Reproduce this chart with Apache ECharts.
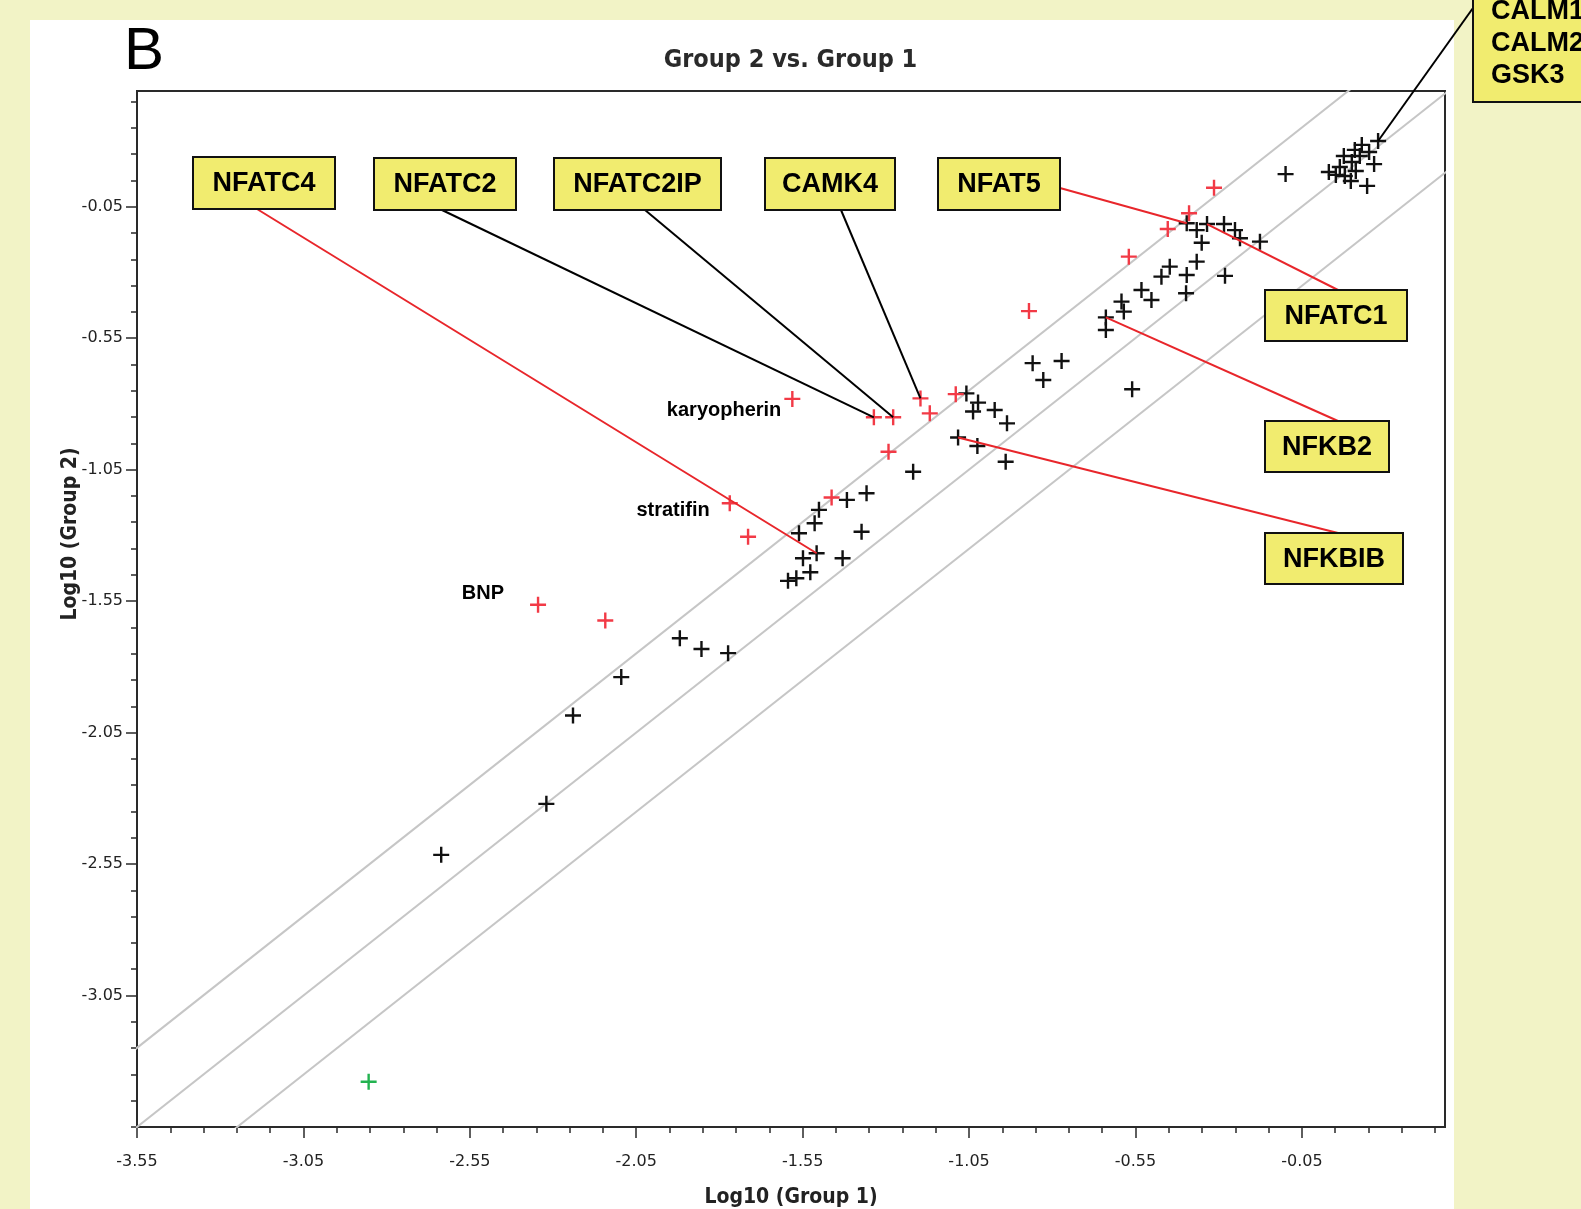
<!DOCTYPE html>
<html>
<head>
<meta charset="utf-8">
<script src="https://cdn.jsdelivr.net/npm/echarts@6/dist/echarts.min.js"></script>
<style>
  html, body { margin: 0; padding: 0; background: #f2f3c6; }
  #panel { position: absolute; left: 30px; top: 20px; width: 1424px; height: 1189px; background: #fff; }
  #main { position: absolute; left: 0; top: 0; width: 1581px; height: 1209px; }
</style>
</head>
<body>
<div id="panel"></div>
<div id="main"></div>
<script>
// axis ticks
const xTicks = [-3.55, -3.05, -2.55, -2.05, -1.55, -1.05, -0.55, -0.05];
const yTicks = [-3.05, -2.55, -2.05, -1.55, -1.05, -0.55, -0.05];
const xMin = -3.55, xMax = 0.38;
const yMin = -3.55, yMax = 0.39;

// 2-fold lines: y = x + offset
const diagOffsets = [0.301, 0, -0.301];

// log10(group1), log10(group2)
const blackPts = [
  [-2.636, -2.515], [-2.320, -2.321], [-2.240, -1.985], [-2.095, -1.839],
  [-1.919, -1.691], [-1.854, -1.732], [-1.774, -1.748],
  [-1.594, -1.473], [-1.569, -1.463], [-1.527, -1.440], [-1.549, -1.387],
  [-1.508, -1.368], [-1.430, -1.387], [-1.561, -1.292], [-1.514, -1.254],
  [-1.501, -1.203], [-1.417, -1.165], [-1.358, -1.140], [-1.373, -1.286],
  [-1.218, -1.058], [-1.083, -0.928], [-1.025, -0.960], [-0.940, -1.020],
  [-1.058, -0.760], [-1.023, -0.795], [-1.038, -0.829], [-0.973, -0.823],
  [-0.936, -0.874],
  [-0.859, -0.645], [-0.827, -0.709], [-0.772, -0.637], [-0.560, -0.744],
  [-0.639, -0.471], [-0.639, -0.519], [-0.592, -0.411], [-0.585, -0.449],
  [-0.532, -0.367], [-0.502, -0.405], [-0.447, -0.278], [-0.472, -0.316],
  [-0.398, -0.379], [-0.396, -0.310], [-0.366, -0.259], [-0.281, -0.313],
  [-0.396, -0.113], [-0.366, -0.139], [-0.335, -0.116], [-0.351, -0.187],
  [-0.284, -0.116], [-0.251, -0.139], [-0.236, -0.170], [-0.176, -0.183],
  [-0.099, 0.074],
  [0.179, 0.200], [0.130, 0.185], [0.109, 0.166], [0.152, 0.158],
  [0.076, 0.143], [0.124, 0.143], [0.100, 0.120], [0.167, 0.112],
  [0.064, 0.101], [0.112, 0.086], [0.052, 0.071], [0.079, 0.067],
  [0.097, 0.048], [0.146, 0.029], [0.031, 0.082]
];

const redPts = [
  [-2.345, -1.564], [-2.143, -1.624], [-1.769, -1.178], [-1.714, -1.305],
  [-1.581, -0.781], [-1.463, -1.156], [-1.336, -0.851], [-1.278, -0.851],
  [-1.292, -0.982], [-1.196, -0.779], [-1.168, -0.836], [-1.090, -0.763],
  [-0.870, -0.447], [-0.570, -0.240], [-0.453, -0.135], [-0.389, -0.075],
  [-0.314, 0.022]
];

const greenPts = [[-2.854, -3.378]];

// point names written next to red points
const pointNames = ['karyopherin', 'stratifin', 'BNP'];
const pointNameIdx = [4, 2, 0];
const pointNameShift = [[-11, 12], [-20, 7], [-34, -11]];

// yellow callout boxes (pixel layout) and which point they point at
const callouts = [
  { text: 'NFATC4',   box: [193, 157, 142, 52], from: [257, 209],  blackIdx: 11, stroke: '#e8262b' },
  { text: 'NFATC2',   box: [374, 158, 142, 52], from: [442, 210],  redIdx: 6, stroke: '#000' },
  { text: 'NFATC2IP', box: [554, 158, 167, 52], from: [645, 210],  redIdx: 7, stroke: '#000' },
  { text: 'CAMK4',    box: [765, 158, 130, 52], from: [841, 210],  redIdx: 9, stroke: '#000' },
  { text: 'NFAT5',    box: [938, 158, 122, 52], from: [1060, 188], blackIdx: 44, stroke: '#e8262b' },
  { text: 'NFATC1',   box: [1265, 290, 142, 51], from: [1338, 290], blackIdx: 46, stroke: '#e8262b' },
  { text: 'NFKB2',    box: [1265, 421, 124, 51], from: [1338, 421], blackIdx: 32, stroke: '#e8262b' },
  { text: 'NFKBIB',   box: [1265, 533, 138, 51], from: [1338, 533], blackIdx: 20, stroke: '#e8262b' }
];
const calmLines = ['CALM1', 'CALM2', 'GSK3'];

function steps(from, to, step) {
  const out = [];
  for (let i = 0; ; i++) {
    const v = Math.round((from + i * step) * 100) / 100;
    if (v > to + 1e-9) break;
    out.push(v);
  }
  return out;
}
const xMinor = steps(xMin, xMax, 0.1);
const yMinor = steps(yMin, yMax, 0.1);

const tickFont = "'DejaVu Sans', sans-serif";
const nameFont = "'DejaVu Sans Condensed', 'DejaVu Sans', sans-serif";
const crossPath = 'path://M6.8,0H9.2V6.8H16V9.2H9.2V16H6.8V9.2H0V6.8H6.8Z';
const axisColor = '#2a2a2a';

var myChart = echarts.init(document.getElementById('main'));

function mainAxis(min, max, minor, labels, extra) {
  return Object.assign({
    type: 'value', min: min, max: max,
    axisLine: { show: true, onZero: false, lineStyle: { color: axisColor, width: 2 } },
    axisTick: { show: true, customValues: minor, length: 6, lineStyle: { color: axisColor, width: 1.5 } },
    splitLine: { show: false }
  }, extra);
}
function majorAxis(min, max, ticks, pos) {
  return {
    type: 'value', min: min, max: max, position: pos,
    axisLine: { show: false, onZero: false },
    axisTick: { show: true, customValues: ticks, length: 11, lineStyle: { color: axisColor, width: 1.5 } },
    axisLabel: { show: false },
    splitLine: { show: false }
  };
}

const diagSeries = diagOffsets.map(function (c) {
  return {
    type: 'line', xAxisIndex: 0, yAxisIndex: 0,
    data: [[-4, -4 + c], [1, 1 + c]],
    symbol: 'none', silent: true, clip: true, z: 1,
    lineStyle: { color: '#c6c6c6', width: 2 }
  };
});

function crossSeries(name, data, color) {
  return {
    name: name, type: 'scatter', xAxisIndex: 0, yAxisIndex: 0,
    data: data, symbol: crossPath, symbolSize: 16,
    itemStyle: { color: color, opacity: 1 }, z: 3
  };
}

var option = {
  animation: false,
  title: {
    text: 'Group 2 vs. Group 1', left: 'center', top: 43,
    textStyle: { fontFamily: nameFont, fontSize: 25, fontWeight: 'bold', color: '#2a2a2a' }
  },
  grid: {
    left: 137, right: 136, top: 91, bottom: 82, show: true,
    borderColor: axisColor, borderWidth: 2, outerBoundsMode: 'none', containLabel: false
  },
  xAxis: [
    mainAxis(xMin, xMax, xMinor, xTicks, {
      position: 'bottom',
      axisLabel: { customValues: xTicks, margin: 27, fontFamily: tickFont, fontSize: 16, color: '#222' },
      name: 'Log10 (Group 1)', nameLocation: 'middle', nameGap: 60,
      nameTextStyle: { fontFamily: nameFont, fontSize: 21, fontWeight: 'bold', color: '#222' }
    }),
    majorAxis(xMin, xMax, xTicks, 'bottom')
  ],
  yAxis: [
    mainAxis(yMin, yMax, yMinor, yTicks, {
      position: 'left',
      axisLabel: { customValues: yTicks, margin: 14, fontFamily: tickFont, fontSize: 16, color: '#222' }
    }),
    majorAxis(yMin, yMax, yTicks, 'left')
  ],
  series: diagSeries.concat([
    crossSeries('other', blackPts, '#111'),
    crossSeries('changed', redPts, '#f23a46'),
    crossSeries('control', greenPts, '#23b350')
  ])
};

myChart.setOption(option);

// annotations placed after the axes exist
function px(p) { return myChart.convertToPixel({ gridIndex: 0 }, p); }

const elems = [];
const boxFill = '#f1ec6f';
const boxFont = "bold 27px 'Liberation Sans', Arial, sans-serif";

elems.push({
  type: 'text', z: 100,
  style: { text: 'B', x: 124, y: 52, font: "60px 'Liberation Sans', Arial, sans-serif", fill: '#000',
    align: 'left', verticalAlign: 'middle', textAlign: 'left', textVerticalAlign: 'middle' }
});

elems.push({
  type: 'text', z: 100, rotation: Math.PI / 2,
  x: 71, y: 534,
  style: { text: 'Log10 (Group 2)', x: 0, y: 0, font: "bold 21px " + nameFont, fill: '#222',
    align: 'center', verticalAlign: 'middle', textAlign: 'center', textVerticalAlign: 'middle' }
});

callouts.forEach(function (c) {
  const target = c.redIdx !== undefined ? redPts[c.redIdx] : blackPts[c.blackIdx];
  const t = px(target);
  elems.push({
    type: 'line', z: 90,
    shape: { x1: c.from[0], y1: c.from[1], x2: t[0], y2: t[1] },
    style: { stroke: c.stroke, lineWidth: 2 }
  });
  elems.push({
    type: 'rect', z: 100,
    shape: { x: c.box[0], y: c.box[1], width: c.box[2], height: c.box[3] },
    style: { fill: boxFill, stroke: '#111', lineWidth: 2 }
  });
  elems.push({
    type: 'text', z: 101,
    style: { text: c.text, x: c.box[0] + c.box[2] / 2, y: c.box[1] + c.box[3] / 2 + 1,
      font: boxFont, fill: '#000',
      align: 'center', verticalAlign: 'middle', textAlign: 'center', textVerticalAlign: 'middle' }
  });
});

// CALM1 / CALM2 / GSK3 box at the top right corner
const calmT = px(blackPts[53]);
elems.push({
  type: 'line', z: 90,
  shape: { x1: 1473, y1: 8, x2: calmT[0], y2: calmT[1] },
  style: { stroke: '#000', lineWidth: 2 }
});
elems.push({
  type: 'rect', z: 100,
  shape: { x: 1473, y: -6, width: 140, height: 108 },
  style: { fill: boxFill, stroke: '#111', lineWidth: 2 }
});
calmLines.forEach(function (s, i) {
  elems.push({
    type: 'text', z: 101,
    style: { text: s, x: 1491, y: 12 + i * 32, font: boxFont, fill: '#000',
      align: 'left', verticalAlign: 'middle', textAlign: 'left', textVerticalAlign: 'middle' }
  });
});

// names next to some red points
pointNames.forEach(function (n, i) {
  const p = px(redPts[pointNameIdx[i]]);
  elems.push({
    type: 'text', z: 100,
    style: { text: n, x: p[0] + pointNameShift[i][0], y: p[1] + pointNameShift[i][1],
      font: "bold 20px 'Liberation Sans', Arial, sans-serif", fill: '#000',
      align: 'right', verticalAlign: 'middle', textAlign: 'right', textVerticalAlign: 'middle' }
  });
});

myChart.setOption({ graphic: { elements: elems } });
</script>
</body>
</html>
